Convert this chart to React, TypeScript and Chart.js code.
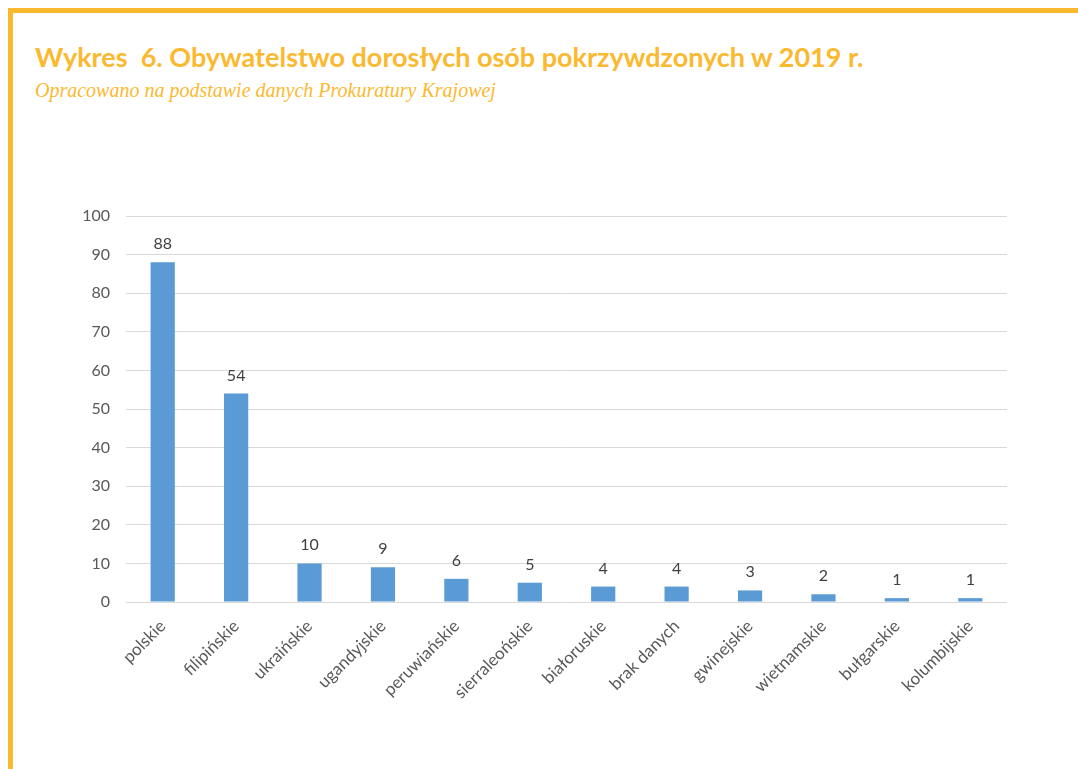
import React, { useEffect, useRef } from "react";
import { Chart, registerables } from "chart.js";

Chart.register(...registerables);

const categories: string[] = [
  "polskie",
  "filipińskie",
  "ukraińskie",
  "ugandyjskie",
  "peruwiańskie",
  "sierraleońskie",
  "białoruskie",
  "brak danych",
  "gwinejskie",
  "wietnamskie",
  "bułgarskie",
  "kolumbijskie",
];
const values: number[] = [88, 54, 10, 9, 6, 5, 4, 4, 3, 2, 1, 1];
const yTicks: number[] = [0, 10, 20, 30, 40, 50, 60, 70, 80, 90, 100];

const ORANGE = "#FBB92F";
const BAR = "#5B9BD5";

const valueLabels = {
  id: "valueLabels",
  afterDatasetsDraw(chart: any) {
    const ctx = chart.ctx;
    const meta = chart.getDatasetMeta(0);
    ctx.save();
    ctx.font = "16px Lato";
    ctx.fillStyle = "#404040";
    ctx.textAlign = "center";
    ctx.textBaseline = "alphabetic";
    meta.data.forEach((el: any, i: number) => {
      ctx.fillText(String(values[i]), el.x, el.y - 13);
    });
    ctx.restore();
  },
};

export default function App() {
  const ref = useRef<HTMLCanvasElement | null>(null);
  useEffect(() => {
    if (!ref.current) return;
    const chart = new Chart(ref.current, {
      type: "bar",
      data: {
        labels: categories,
        datasets: [
          {
            data: values,
            backgroundColor: BAR,
            barPercentage: 0.66,
            categoryPercentage: 0.5,
          },
        ],
      },
      options: {
        animation: false,
        responsive: false,
        maintainAspectRatio: false,
        layout: { padding: { left: 60, right: 71, top: 216, bottom: 17 } },
        plugins: { legend: { display: false }, tooltip: { enabled: false } },
        scales: {
          x: {
            grid: { display: false },
            border: { display: false },
            ticks: {
              maxRotation: 45,
              minRotation: 45,
              autoSkip: false,
              padding: 6,
              color: "#595959",
              font: { family: "Lato", size: 17 },
            },
            afterFit: (s: any) => {
              s.height = 150;
              s.paddingLeft = 0;
              s.paddingRight = 0;
            },
          },
          y: {
            min: 0,
            max: 100,
            afterBuildTicks: (s: any) => {
              s.ticks = yTicks.map((v) => ({ value: v }));
            },
            grid: { color: "#D9D9D9", drawTicks: false, lineWidth: 1 },
            border: { display: false },
            ticks: {
              padding: 16,
              color: "#595959",
              font: { family: "Lato", size: 16 },
            },
            afterFit: (s: any) => {
              s.width = 66;
            },
          },
        },
      },
      plugins: [valueLabels],
    });
    return () => chart.destroy();
  }, []);

  return (
    <div style={{ position: "absolute", left: 0, top: 0, width: 1078, height: 769, background: "#fff", overflow: "hidden" }}>
      <div
        style={{
          position: "absolute",
          left: 8,
          top: 8,
          right: 0,
          bottom: 0,
          borderTop: `5px solid ${ORANGE}`,
          borderLeft: `5px solid ${ORANGE}`,
        }}
      />
      <div
        style={{
          position: "absolute",
          left: 35,
          top: 40,
          whiteSpace: "pre",
          fontFamily: "Lato",
          fontWeight: 700,
          fontSize: 27,
          color: ORANGE,
          lineHeight: "34px",
        }}
      >
        {"Wykres  6. Obywatelstwo dorosłych osób pokrzywdzonych w 2019 r."}
      </div>
      <div
        style={{
          position: "absolute",
          left: 35,
          top: 78,
          whiteSpace: "pre",
          fontFamily: "'Liberation Serif'",
          fontStyle: "italic",
          fontSize: 20,
          color: ORANGE,
          lineHeight: "24px",
        }}
      >
        {"Opracowano na podstawie danych Prokuratury Krajowej"}
      </div>
      <canvas ref={ref} width={1078} height={769} style={{ position: "absolute", left: 0, top: 0 }} />
    </div>
  );
}
